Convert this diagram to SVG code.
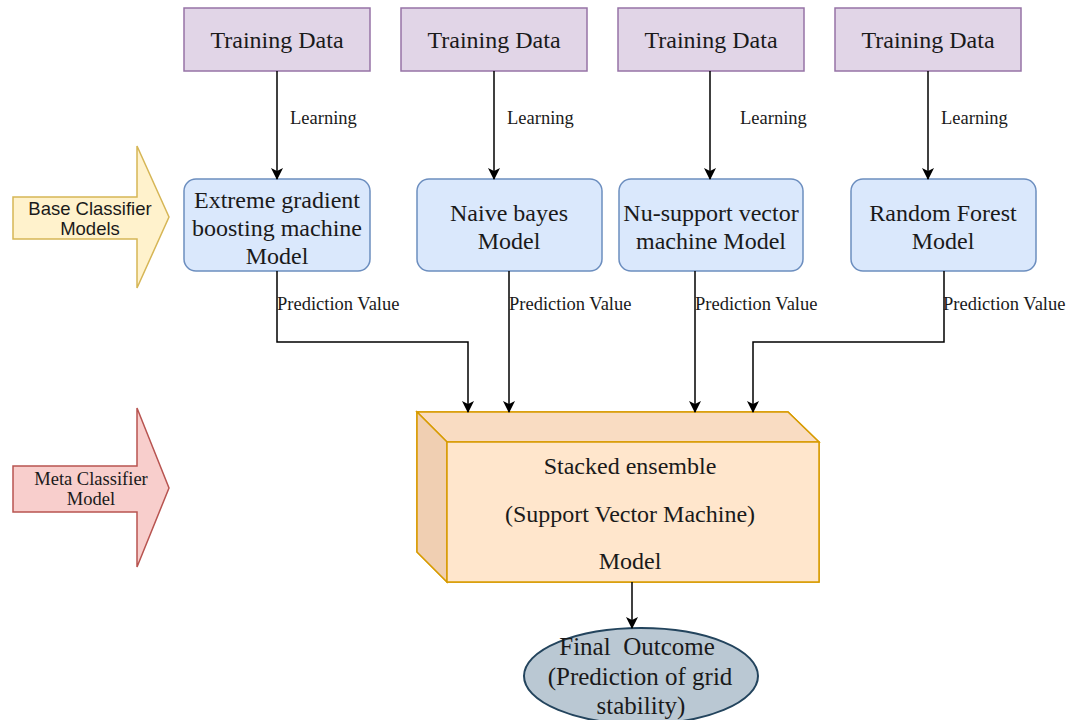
<svg xmlns="http://www.w3.org/2000/svg" width="1069" height="720" viewBox="0 0 1069 720">
<style>
.serif{font-family:"Liberation Serif","Times New Roman",serif;fill:#1a1a1a}
.sans{font-family:"Liberation Sans",Arial,sans-serif;fill:#1a1a1a}
.td{fill:#e1d5e7;stroke:#9673a6;stroke-width:1.5}
.bm{fill:#dae8fc;stroke:#6c8ebf;stroke-width:1.5}
.big{font-size:24px;text-anchor:middle}
.ell{font-size:25px;text-anchor:middle}
.lbl{font-size:18.5px}
.side{font-size:18.5px;text-anchor:middle}
.conn{fill:none;stroke:#000;stroke-width:1.5}
</style>
<defs>
<marker id="ah" viewBox="0 0 12 12" refX="11" refY="6" markerWidth="12" markerHeight="12" markerUnits="userSpaceOnUse" orient="auto">
<path d="M0,0 L12,6 L0,12 L3,6 Z" fill="#000"/>
</marker>
</defs>
<rect width="1069" height="720" fill="#fff"/>

<g id="base-arrow">
<path d="M13,197 L137,197 L137,146 L169,217 L137,288 L137,239 L13,239 Z" fill="#fff2cc" stroke="#d6b656" stroke-width="1.5"/>
<text class="sans side" x="90" y="215" font-size="17">Base Classifier</text>
<text class="sans side" x="90" y="235" font-size="17">Models</text>
</g>
<g id="meta-arrow">
<path d="M13,466 L137,466 L137,408 L169,488 L137,567 L137,512 L13,512 Z" fill="#f8cecc" stroke="#b85450" stroke-width="1.5"/>
<text class="serif side" x="91" y="485">Meta Classifier</text>
<text class="serif side" x="91" y="505">Model</text>
</g>

<g id="td1"><rect class="td" x="184" y="8" width="186" height="63"/><text class="serif big" x="277" y="48">Training Data</text></g>
<g id="td2"><rect class="td" x="401" y="8" width="186" height="63"/><text class="serif big" x="494" y="48">Training Data</text></g>
<g id="td3"><rect class="td" x="618" y="8" width="186" height="63"/><text class="serif big" x="711" y="48">Training Data</text></g>
<g id="td4"><rect class="td" x="835" y="8" width="186" height="63"/><text class="serif big" x="928" y="48">Training Data</text></g>

<g id="m1"><rect class="bm" x="184" y="179" width="186" height="92" rx="12"/>
<text class="serif big" x="277" y="208">Extreme gradient</text>
<text class="serif big" x="277" y="236">boosting machine</text>
<text class="serif big" x="277" y="264">Model</text></g>
<g id="m2"><rect class="bm" x="417" y="179" width="185" height="92" rx="12"/>
<text class="serif big" x="509" y="221">Naive bayes</text>
<text class="serif big" x="509" y="249">Model</text></g>
<g id="m3"><rect class="bm" x="619" y="179" width="184" height="92" rx="12"/>
<text class="serif big" x="711" y="221">Nu-support vector</text>
<text class="serif big" x="711" y="249">machine Model</text></g>
<g id="m4"><rect class="bm" x="851" y="179" width="185" height="92" rx="12"/>
<text class="serif big" x="943" y="221">Random Forest</text>
<text class="serif big" x="943" y="249">Model</text></g>

<g id="meta">
<path d="M417,412 L788,412 L819,442 L819,582 L447,582 L417,552 Z" fill="#ffe6cc" stroke="#d79b00" stroke-width="1.5"/>
<path d="M417,412 L788,412 L819,442 L447,442 Z" fill="#f9dcc2" stroke="#d79b00" stroke-width="1.5"/>
<path d="M417,412 L447,442 L447,582 L417,552 Z" fill="#f0cfb2" stroke="#d79b00" stroke-width="1.5"/>
<rect x="447" y="442" width="372" height="140" fill="#ffe6cc" stroke="#d79b00" stroke-width="1.5"/>
<text class="serif big" x="630" y="474">Stacked ensemble</text>
<text class="serif big" x="630" y="522">(Support Vector Machine)</text>
<text class="serif big" x="630" y="569">Model</text>
</g>

<g id="final">
<ellipse cx="641" cy="676" rx="117" ry="48" fill="#bac8d3" stroke="#23445d" stroke-width="2"/>
<text class="serif ell" x="637" y="655" xml:space="preserve">Final  Outcome</text>
<text class="serif ell" x="640" y="685">(Prediction of grid</text>
<text class="serif ell" x="641" y="714">stability)</text>
</g>

<g id="connectors">
<path class="conn" d="M277,71 L277,179" marker-end="url(#ah)"/>
<path class="conn" d="M494,71 L494,179" marker-end="url(#ah)"/>
<path class="conn" d="M710,71 L710,179" marker-end="url(#ah)"/>
<path class="conn" d="M928,71 L928,179" marker-end="url(#ah)"/>
<text class="serif lbl" x="290" y="124">Learning</text>
<text class="serif lbl" x="507" y="124">Learning</text>
<text class="serif lbl" x="740" y="124">Learning</text>
<text class="serif lbl" x="941" y="124">Learning</text>

<path class="conn" d="M277,271 L277,342 L468,342 L468,412" marker-end="url(#ah)"/>
<path class="conn" d="M509,271 L509,412" marker-end="url(#ah)"/>
<path class="conn" d="M695,271 L695,412" marker-end="url(#ah)"/>
<path class="conn" d="M944,271 L944,342 L753,342 L753,412" marker-end="url(#ah)"/>
<text class="serif lbl" x="277" y="310">Prediction Value</text>
<text class="serif lbl" x="509" y="310">Prediction Value</text>
<text class="serif lbl" x="695" y="310">Prediction Value</text>
<text class="serif lbl" x="943" y="310">Prediction Value</text>

<path class="conn" d="M632,582 L632,628" marker-end="url(#ah)"/>
</g>
</svg>
